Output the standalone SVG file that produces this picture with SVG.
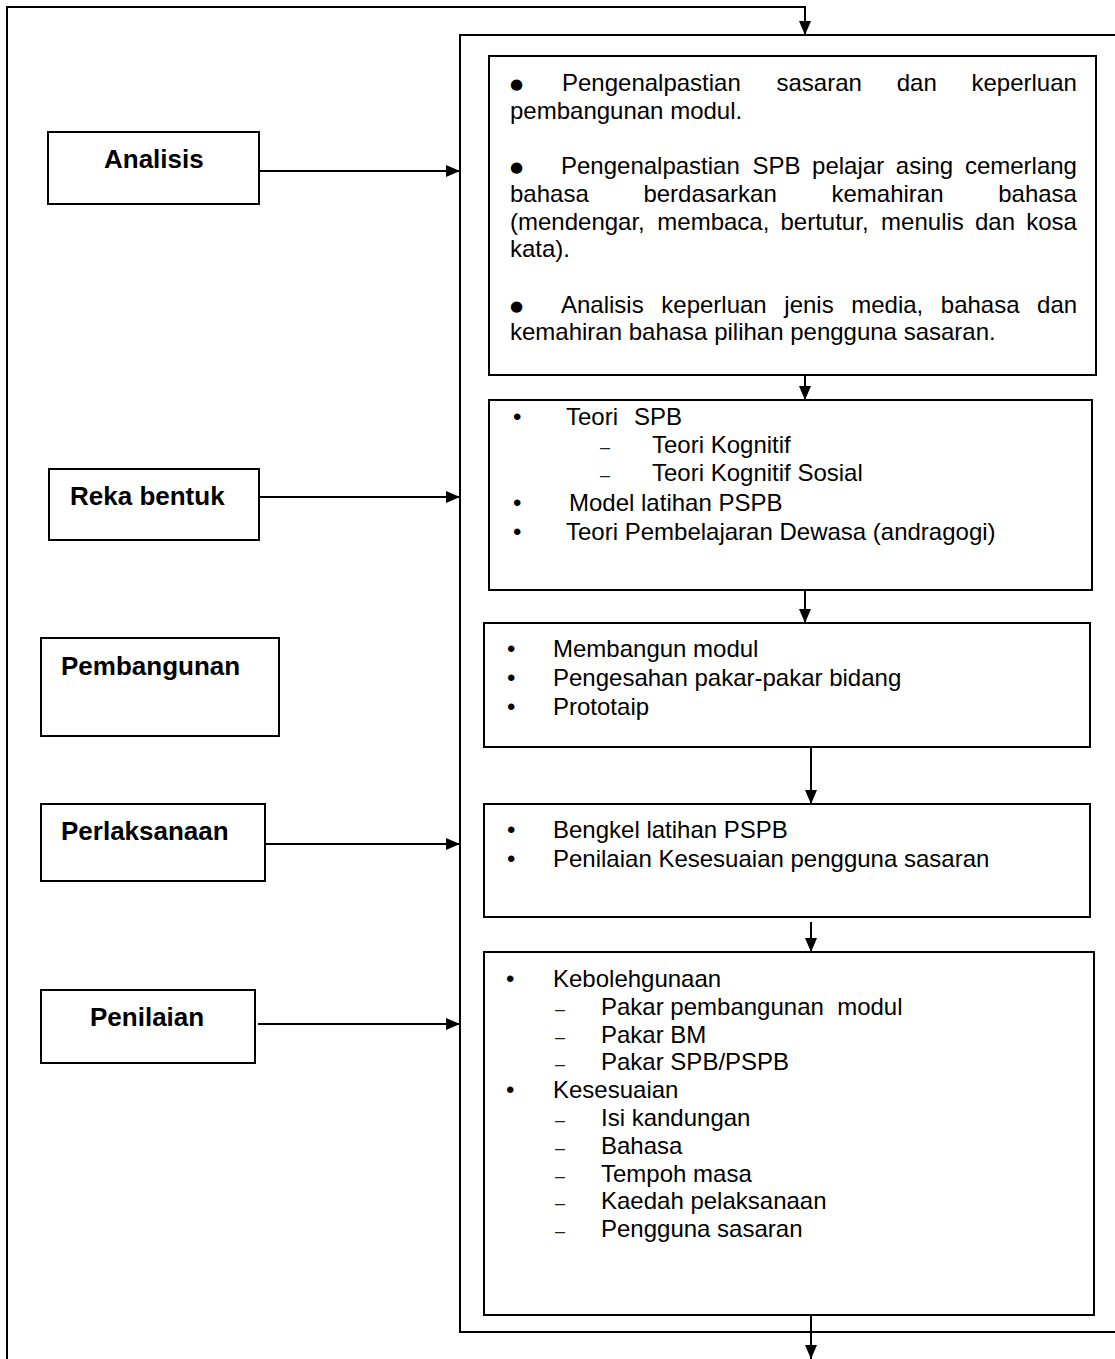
<svg xmlns="http://www.w3.org/2000/svg" width="1115" height="1359" viewBox="0 0 1115 1359">
<style>
.box{fill:#fff;stroke:#000;stroke-width:2}
.outer{fill:none;stroke:#000;stroke-width:2}
.conn{fill:none;stroke:#000;stroke-width:2}
.lbl{font-family:"Liberation Sans",Arial,sans-serif;font-weight:bold;font-size:26px;fill:#000}
.t{font-family:"Liberation Sans",Arial,sans-serif;font-size:24px;fill:#000}
.big{font-family:"DejaVu Sans",sans-serif;font-size:15px;fill:#000}
.dash{font-family:"Liberation Sans",Arial,sans-serif;font-size:18px;fill:#222}
</style>
<defs>
<marker id="ah" viewBox="0 0 14 12" refX="14" refY="6" markerWidth="14" markerHeight="12" markerUnits="userSpaceOnUse" orient="auto">
<path d="M0,0 L14,6 L0,12 z" fill="#000"/>
</marker>
</defs>
<rect width="1115" height="1359" fill="#fff"/>

<g id="outer-frame">
<path class="outer" d="M1120,35 H460 V1332 H1120"/>
</g>

<g id="node-analisis">
<rect class="box" x="48" y="132" width="211" height="72"/>
<text class="lbl" x="104" y="168">Analisis</text>
</g>
<g id="node-rekabentuk">
<rect class="box" x="49" y="469" width="210" height="71"/>
<text class="lbl" x="70" y="505">Reka bentuk</text>
</g>
<g id="node-pembangunan">
<rect class="box" x="41" y="638" width="238" height="98"/>
<text class="lbl" x="61" y="675">Pembangunan</text>
</g>
<g id="node-perlaksanaan">
<rect class="box" x="41" y="804" width="224" height="77"/>
<text class="lbl" x="61" y="840">Perlaksanaan</text>
</g>
<g id="node-penilaian">
<rect class="box" x="41" y="990" width="214" height="73"/>
<text class="lbl" x="90" y="1026">Penilaian</text>
</g>

<g id="box-analisis">
<rect class="box" x="489" y="56" width="607" height="319"/>
<text class="big" x="510" y="89">●</text>
<text class="t" y="91"><tspan x="562">Pengenalpastian</tspan><tspan x="776.5">sasaran</tspan><tspan x="896.7">dan</tspan><tspan x="971.5">keperluan</tspan></text>
<text class="t" x="510" y="119">pembangunan modul.</text>
<text class="big" x="510" y="172">●</text>
<text class="t" y="174"><tspan x="561">Pengenalpastian</tspan><tspan x="752.4">SPB</tspan><tspan x="812.1">pelajar</tspan><tspan x="895.8">asing</tspan><tspan x="964.9">cemerlang</tspan></text>
<text class="t" y="202"><tspan x="510">bahasa</tspan><tspan x="643.4">berdasarkan</tspan><tspan x="831.5">kemahiran</tspan><tspan x="998.2">bahasa</tspan></text>
<text class="t" y="229.6"><tspan x="510">(mendengar,</tspan><tspan x="657.3">membaca,</tspan><tspan x="780.5">bertutur,</tspan><tspan x="881.1">menulis</tspan><tspan x="975">dan</tspan><tspan x="1026.2">kosa</tspan></text>
<text class="t" x="510" y="257">kata).</text>
<text class="big" x="510" y="310.6">●</text>
<text class="t" y="312.6"><tspan x="561">Analisis</tspan><tspan x="661.3">keperluan</tspan><tspan x="784.3">jenis</tspan><tspan x="851.2">media,</tspan><tspan x="940.8">bahasa</tspan><tspan x="1037.1">dan</tspan></text>
<text class="t" x="510" y="340">kemahiran bahasa pilihan pengguna sasaran.</text>
</g>

<g id="box-rekabentuk">
<rect class="box" x="489" y="400" width="603" height="190"/>
<text class="t" x="513" y="425">•</text>
<text class="t" y="425"><tspan x="566">Teori</tspan><tspan x="634">SPB</tspan></text>
<text class="dash" x="600" y="453">–</text>
<text class="t" x="652" y="453">Teori Kognitif</text>
<text class="dash" x="600" y="481">–</text>
<text class="t" x="652" y="481">Teori Kognitif Sosial</text>
<text class="t" x="513" y="511">•</text>
<text class="t" x="569" y="511">Model latihan PSPB</text>
<text class="t" x="513" y="540">•</text>
<text class="t" x="566" y="540">Teori Pembelajaran Dewasa (andragogi)</text>
</g>

<g id="box-pembangunan">
<rect class="box" x="484" y="623" width="606" height="124"/>
<text class="t" x="507" y="657">•</text>
<text class="t" x="553" y="657">Membangun modul</text>
<text class="t" x="507" y="686">•</text>
<text class="t" x="553" y="686">Pengesahan pakar-pakar bidang</text>
<text class="t" x="507" y="715">•</text>
<text class="t" x="553" y="715">Prototaip</text>
</g>

<g id="box-perlaksanaan">
<rect class="box" x="484" y="804" width="606" height="113"/>
<text class="t" x="507" y="838">•</text>
<text class="t" x="553" y="838">Bengkel latihan PSPB</text>
<text class="t" x="507" y="867">•</text>
<text class="t" x="553" y="867">Penilaian Kesesuaian pengguna sasaran</text>
</g>

<g id="box-penilaian">
<rect class="box" x="484" y="952" width="610" height="363"/>
<text class="t" x="506" y="987">•</text>
<text class="t" x="553" y="987">Kebolehgunaan</text>
<text class="dash" x="555" y="1015">–</text>
<text class="t" x="601" y="1015">Pakar pembangunan&#160; modul</text>
<text class="dash" x="555" y="1042.6">–</text>
<text class="t" x="601" y="1042.6">Pakar BM</text>
<text class="dash" x="555" y="1070.4">–</text>
<text class="t" x="601" y="1070.4">Pakar SPB/PSPB</text>
<text class="t" x="506" y="1098.2">•</text>
<text class="t" x="553" y="1098.2">Kesesuaian</text>
<text class="dash" x="555" y="1126">–</text>
<text class="t" x="601" y="1126">Isi kandungan</text>
<text class="dash" x="555" y="1153.8">–</text>
<text class="t" x="601" y="1153.8">Bahasa</text>
<text class="dash" x="555" y="1181.6">–</text>
<text class="t" x="601" y="1181.6">Tempoh masa</text>
<text class="dash" x="555" y="1209.4">–</text>
<text class="t" x="601" y="1209.4">Kaedah pelaksanaan</text>
<text class="dash" x="555" y="1237.2">–</text>
<text class="t" x="601" y="1237.2">Pengguna sasaran</text>
</g>

<g id="connectors">
<path class="conn" d="M7,1359 V7 H805 V35" marker-end="url(#ah)"/>
<path class="conn" d="M259,171 H460" marker-end="url(#ah)"/>
<path class="conn" d="M259,497 H460" marker-end="url(#ah)"/>
<path class="conn" d="M265,844 H460" marker-end="url(#ah)"/>
<path class="conn" d="M258,1024 H460" marker-end="url(#ah)"/>
<path class="conn" d="M805,375 V400" marker-end="url(#ah)"/>
<path class="conn" d="M805,590 V623" marker-end="url(#ah)"/>
<path class="conn" d="M811,747 V804" marker-end="url(#ah)"/>
<path class="conn" d="M811,922 V952" marker-end="url(#ah)"/>
<path class="conn" d="M811,1315 V1359" marker-end="url(#ah)"/>
</g>
</svg>
